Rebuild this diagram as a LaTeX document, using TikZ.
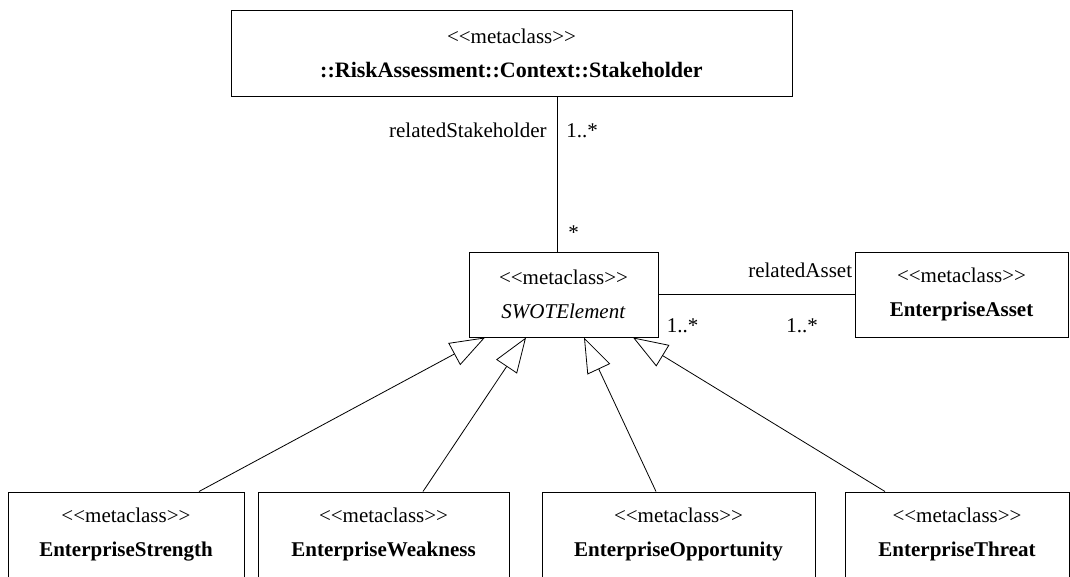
\documentclass[tikz,border=0pt]{standalone}
\usepackage{fontspec}
\setmainfont{Liberation Serif}
\usetikzlibrary{arrows.meta}
\newcommand{\stereo}{<{}<metaclass>{}>}
\begin{document}
\begin{tikzpicture}[x=1pt,y=-1pt,
  metabox/.style={draw,line width=1pt,align=center,inner sep=0pt,font=\fontsize{21}{34}\selectfont},
  assoc/.style={draw,line width=0.8pt},
  gen/.style={draw,line width=0.8pt,-{Triangle[open,length=35pt,width=25pt,line width=0.8pt]}},
  mult/.style={font=\fontsize{21}{25}\selectfont,inner sep=0pt}]
\useasboundingbox (0,0) rectangle (1070,576);
\node[metabox,minimum width=561pt,minimum height=86pt] (stake) at (511.5,53) {\stereo\\\textbf{\fontsize{22}{34}\selectfont ::RiskAssessment::Context::Stakeholder}};
\node[metabox,minimum width=189pt,minimum height=85pt] (swot) at (563.5,294.5) {\stereo\\\textit{SWOTElement}};
\node[metabox,minimum width=213pt,minimum height=85pt] (asset) at (961.5,294.5) {\stereo\\\textbf{EnterpriseAsset}};
\node[metabox,minimum width=236pt,minimum height=85pt] (strength) at (126,534.5) {\stereo\\\textbf{EnterpriseStrength}};
\node[metabox,minimum width=251pt,minimum height=85pt] (weakness) at (383.5,534.5) {\stereo\\\textbf{EnterpriseWeakness}};
\node[metabox,minimum width=273pt,minimum height=85pt] (opportunity) at (678.5,534.5) {\stereo\\\textbf{EnterpriseOpportunity}};
\node[metabox,minimum width=224pt,minimum height=85pt] (threat) at (957,534.5) {\stereo\\\textbf{EnterpriseThreat}};
% associations
\draw[assoc] ([xshift=45.5pt]stake.south) -- ([xshift=-6.5pt]swot.north)
  node[mult,pos=0.22,anchor=east,xshift=-10pt] {relatedStakeholder}
  node[mult,pos=0.22,anchor=west,xshift=9pt] {1..*}
  node[mult,pos=0.88,anchor=west,xshift=11pt] {*};
\draw[assoc] (swot.east) -- (asset.west)
  node[mult,pos=1,anchor=east,yshift=24pt,xshift=-2pt] {relatedAsset}
  node[mult,pos=0,anchor=west,yshift=-31pt,xshift=8pt] {1..*}
  node[mult,pos=0.65,anchor=west,yshift=-31pt] {1..*};
% generalizations
\draw[gen] ([xshift=73pt]strength.north) -- ([xshift=-78.5pt]swot.south);
\draw[gen] ([xshift=39.5pt]weakness.north) -- ([xshift=-37.5pt]swot.south);
\draw[gen] ([xshift=-22.5pt]opportunity.north) -- ([xshift=20.5pt]swot.south);
\draw[gen] ([xshift=-72pt]threat.north) -- ([xshift=69.5pt]swot.south);
\end{tikzpicture}
\end{document}
